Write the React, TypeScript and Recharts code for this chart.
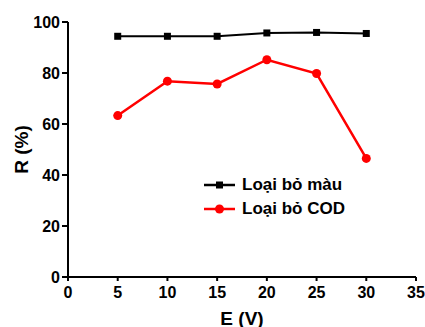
import React from 'react';
import { LineChart, Line, XAxis, YAxis, Legend, Label } from 'recharts';

const voltages = [5, 10, 15, 20, 25, 30];
const colorRemoval = [94.4, 94.4, 94.4, 95.7, 95.9, 95.5];
const codRemoval = [63.3, 76.8, 75.7, 85.2, 79.8, 46.5];
const xTicks = [0, 5, 10, 15, 20, 25, 30, 35];
const yTicks = [0, 20, 40, 60, 80, 100];
const seriesNames = ['Loại bỏ màu', 'Loại bỏ COD'];
const xTitle = 'E (V)';
const yTitle = 'R (%)';

const data = voltages.map((e, i) => ({ E: e, mau: colorRemoval[i], cod: codRemoval[i] }));

const FONT = '"Liberation Sans", Arial, sans-serif';

const SquareDot = (props: any) => {
  const { cx, cy, index } = props;
  if (cx == null || cy == null) return <g key={index} />;
  return <rect key={index} x={cx - 3.5} y={cy - 3.5} width={7} height={7} fill="#000" />;
};

const CircleDot = (props: any) => {
  const { cx, cy, index } = props;
  if (cx == null || cy == null) return <g key={index} />;
  return <circle key={index} cx={cx} cy={cy} r={4.5} fill="#ff0000" />;
};

const renderLegend = (props: any) => {
  const payload = [...(props.payload || [])].sort(
    (a: any, b: any) => seriesNames.indexOf(a.value) - seriesNames.indexOf(b.value)
  );
  return (
    <div style={{ fontFamily: FONT, fontWeight: 700, fontSize: 17, color: '#000' }}>
      {payload.map((entry: any, i: number) => (
        <div key={i} style={{ display: 'flex', alignItems: 'center', height: 24 }}>
          <svg width={38} height={24} style={{ display: 'block' }}>
            <line x1={0} y1={12} x2={31} y2={12} stroke={entry.color} strokeWidth={2.5} />
            {entry.dataKey === 'mau' ? (
              <rect x={12} y={8.5} width={7} height={7} fill={entry.color} />
            ) : (
              <circle cx={15.5} cy={12} r={4.5} fill={entry.color} />
            )}
          </svg>
          <span style={{ whiteSpace: 'nowrap' }}>{entry.value}</span>
        </div>
      ))}
    </div>
  );
};

const tickStyle = { fontSize: 16, fontWeight: 700, fill: '#000', fontFamily: FONT, style: { fontWeight: 700 } };

export default function App() {
  return (
    <div style={{ position: 'absolute', left: 0, top: 0, width: 425, height: 327, background: '#fff' }}>
      <LineChart width={425} height={327} data={data} margin={{ top: 22, right: 9, bottom: 0, left: 0 }}>
        <XAxis
          dataKey="E"
          type="number"
          domain={[0, 35]}
          ticks={xTicks}
          interval={0}
          height={50}
          tickSize={4}
          tickMargin={6}
          axisLine={{ stroke: '#000', strokeWidth: 2 }}
          tickLine={{ stroke: '#000', strokeWidth: 2 }}
          tick={tickStyle}
        >
          <Label
            value={xTitle}
            position="insideBottom"
            offset={2}
            style={{ fontSize: 19, fontWeight: 700, fill: '#000', fontFamily: FONT }}
          />
        </XAxis>
        <YAxis
          type="number"
          domain={[0, 100]}
          ticks={yTicks}
          interval={0}
          width={68}
          tickSize={6}
          tickMargin={2}
          axisLine={{ stroke: '#000', strokeWidth: 2 }}
          tickLine={{ stroke: '#000', strokeWidth: 2 }}
          tick={tickStyle}
        >
          <Label
            value={yTitle}
            position="insideLeft"
            angle={-90}
            offset={21}
            textAnchor="middle"
            style={{ fontSize: 19, fontWeight: 700, fill: '#000', fontFamily: FONT, textAnchor: 'middle' }}
          />
        </YAxis>
        <Legend
          layout="vertical"
          align="center"
          verticalAlign="middle"
          itemSorter={null as any}
          content={renderLegend}
          wrapperStyle={{ left: 204, top: 173, bottom: 'auto', right: 'auto', width: 'auto', height: 'auto' }}
        />
        <Line
          name={seriesNames[0]}
          dataKey="mau"
          stroke="#000"
          strokeWidth={2}
          dot={SquareDot}
          activeDot={false}
          isAnimationActive={false}
        />
        <Line
          name={seriesNames[1]}
          dataKey="cod"
          stroke="#ff0000"
          strokeWidth={2.5}
          dot={CircleDot}
          activeDot={false}
          isAnimationActive={false}
        />
      </LineChart>
    </div>
  );
}
